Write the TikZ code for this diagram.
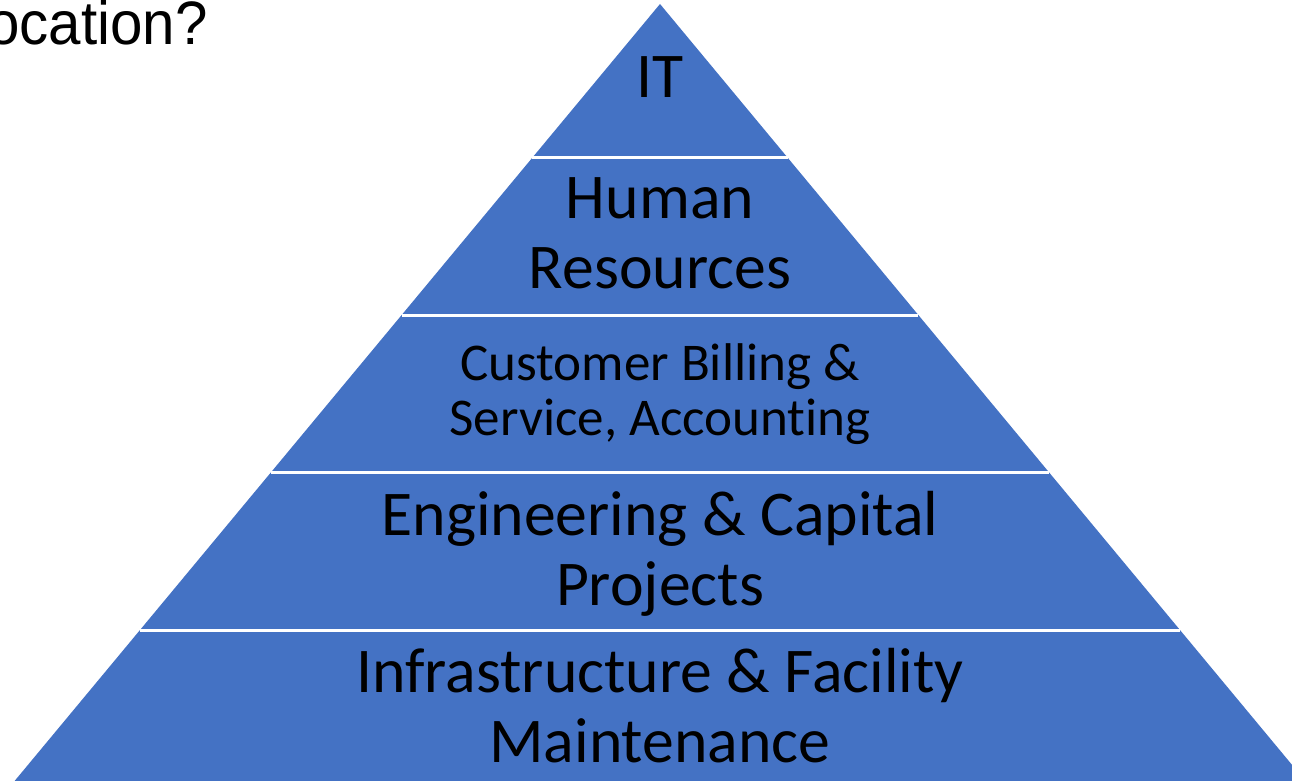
\documentclass[tikz,border=0pt]{standalone}
\usepackage{fontspec}
\setmainfont{Carlito}[Ligatures=NoCommon]
\newfontfamily\titlefont{Liberation Sans}
\definecolor{layerblue}{HTML}{4472C4}
\begin{document}
\begin{tikzpicture}[x=0.75pt,y=-0.75pt,
  layer/.style={fill=layerblue},
  sep/.style={draw=white,line width=2.25pt},
  % labels are anchored on the baseline of their last line
  bigtext/.style={anchor=base,align=center,text=black,inner sep=0pt,
    font=\fontsize{47.8}{52.5}\selectfont},
  midtext/.style={anchor=base,align=center,text=black,inner sep=0pt,
    font=\fontsize{39.8}{41.25}\selectfont}]
\useasboundingbox (0,0) rectangle (1292,781);
\clip (0,0) rectangle (1292,781);

% pyramid body
\fill[layer] (660,4) -- (1321.2,800) -- (-1.2,800) -- cycle;

% white separators between the layers
\draw[sep] (532.1,158) -- (787.9,158);
\draw[sep] (401.7,315) -- (918.3,315);
\draw[sep] (271.2,472) -- (1048.8,472);
\draw[sep] (140,630) -- (1180,630);

% layer labels
\node[bigtext] (it) at (660,98) {IT};
\node[bigtext] (hr) at (660,288) {Human\\Resources};
\node[midtext] (billing) at (660,435) {Customer Billing \&\\Service, Accounting};
\node[bigtext] (eng) at (660,605) {Engineering \& Capital\\Projects};
\node[bigtext] (infra) at (660,762) {Infrastructure \& Facility\\Maintenance};

% heading fragment
\node[anchor=base east,inner sep=0pt,text=black,xscale=0.95,
  font=\titlefont\fontsize{46}{54}\selectfont] (title) at (208,45) {ocation?};
\end{tikzpicture}
\end{document}
